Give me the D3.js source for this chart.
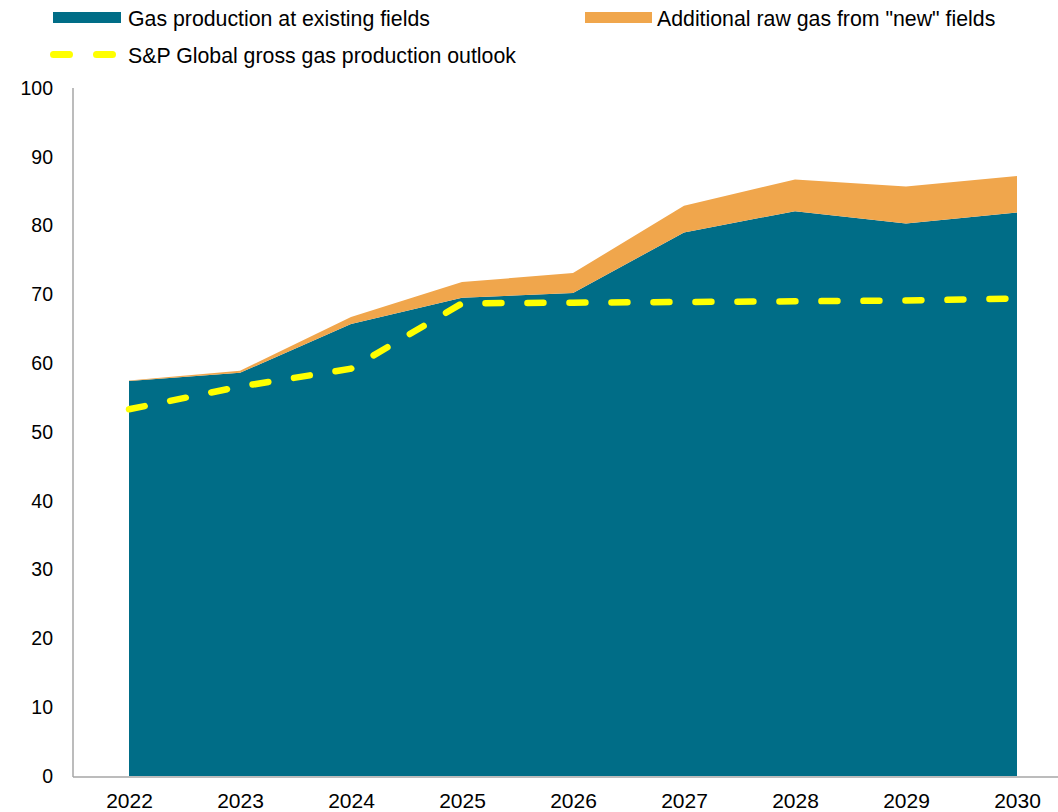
<!DOCTYPE html>
<html>
  <head>
    <meta charset="utf-8">
    <title>Gas production outlook</title>
    <style>
      body { margin: 0; background: #fff; }
      text { font-family: "Liberation Sans", Arial, sans-serif; fill: #000; }
    </style>
  </head>
  <body>
    <div id='graph'></div>
    <script src="https://cdn.jsdelivr.net/npm/d3@7"></script>
    <script>

    // years on the x axis
    var years = [2022, 2023, 2024, 2025, 2026, 2027, 2028, 2029, 2030];
    // gas production at existing fields
    var existing = [57.4, 58.6, 65.7, 69.5, 70.2, 79.0, 82.1, 80.3, 81.9];
    // additional raw gas from "new" fields (stacked on top)
    var newFields = [0.1, 0.3, 1.0, 2.3, 2.9, 3.9, 4.6, 5.4, 5.3];
    // S&P Global gross gas production outlook
    var outlook = [53.3, 56.6, 59.2, 68.7, 68.8, 68.9, 69.0, 69.1, 69.4];
    var yTicks = [0, 10, 20, 30, 40, 50, 60, 70, 80, 90, 100];

    var width = 1058;
    var height = 812;

    var rows = years.map(function(y, i) {
      return { year: y, existing: existing[i], added: newFields[i] };
    });

    var xScale = d3.scalePoint()
                  .domain(years)
                  .range([129, 1017]);

    var yScale = d3.scaleLinear()
                  .domain([0, 100])
                  .range([776, 88]);

    var svg = d3.select('#graph')
              .append('svg')
              .attr("width", width)
              .attr("height", height);

    var stack = d3.stack().keys(["existing", "added"]);
    var layers = stack(rows);
    var colors = { existing: "#006d87", added: "#f0a64c" };

    var area = d3.area()
                .x(function(d) { return xScale(d.data.year); })
                .y0(function(d) { return yScale(d[0]); })
                .y1(function(d) { return yScale(d[1]); });

    svg.selectAll('.layer')
      .data(layers)
      .enter()
      .append('path')
      .attr("class", "layer")
      .attr("d", area)
      .attr("fill", function(d) { return colors[d.key]; });

    var line = d3.line()
                .x(function(d, i) { return xScale(years[i]); })
                .y(function(d) { return yScale(d); });

    svg.append('path')
      .datum(outlook)
      .attr("d", line)
      .attr("fill", "none")
      .attr("stroke", "#ffff00")
      .attr("stroke-width", 6.5)
      .attr("stroke-linecap", "round")
      .attr("stroke-dasharray", "16,26");

    // axes
    var yAxis = d3.axisLeft(yScale)
                  .tickValues(yTicks)
                  .tickSize(0)
                  .tickPadding(20);

    var gy = svg.append('g')
      .attr("transform", "translate(73,0)")
      .call(yAxis);
    gy.select('.domain').remove();
    gy.selectAll('text')
      .style("font-size", "19.5px")
      .style("font-family", "Liberation Sans, Arial, sans-serif");

    var xAxis = d3.axisBottom(xScale)
                  .tickSize(0)
                  .tickPadding(16);

    var gx = svg.append('g')
      .attr("transform", "translate(0,777)")
      .call(xAxis);
    gx.select('.domain').remove();
    gx.selectAll('text')
      .style("font-size", "21px")
      .style("font-family", "Liberation Sans, Arial, sans-serif");

    svg.append('line')
      .attr("x1", 73).attr("x2", 73)
      .attr("y1", 88).attr("y2", 777)
      .attr("stroke", "#a6a6a6")
      .attr("stroke-width", 1.5);

    svg.append('line')
      .attr("x1", 73).attr("x2", width)
      .attr("y1", 777).attr("y2", 777)
      .attr("stroke", "#a6a6a6")
      .attr("stroke-width", 1.5);

    // legend
    var legend = svg.append('g');

    legend.append('rect')
      .attr("x", 53).attr("y", 12).attr("width", 68).attr("height", 11)
      .attr("fill", colors.existing);
    legend.append('text')
      .attr("x", 128).attr("y", 26)
      .style("font-size", "21.3px")
      .text("Gas production at existing fields");

    legend.append('rect')
      .attr("x", 585).attr("y", 12).attr("width", 67).attr("height", 11)
      .attr("fill", colors.added);
    legend.append('text')
      .attr("x", 657).attr("y", 26)
      .style("font-size", "21.3px")
      .text("Additional raw gas from \"new\" fields");

    legend.append('line')
      .attr("x1", 53.5).attr("x2", 121)
      .attr("y1", 54.5).attr("y2", 54.5)
      .attr("stroke", "#ffff00")
      .attr("stroke-width", 7)
      .attr("stroke-linecap", "round")
      .attr("stroke-dasharray", "16,27");
    legend.append('text')
      .attr("x", 128).attr("y", 63)
      .style("font-size", "21.3px")
      .text("S&P Global gross gas production outlook");

    </script>
  </body>
</html>
